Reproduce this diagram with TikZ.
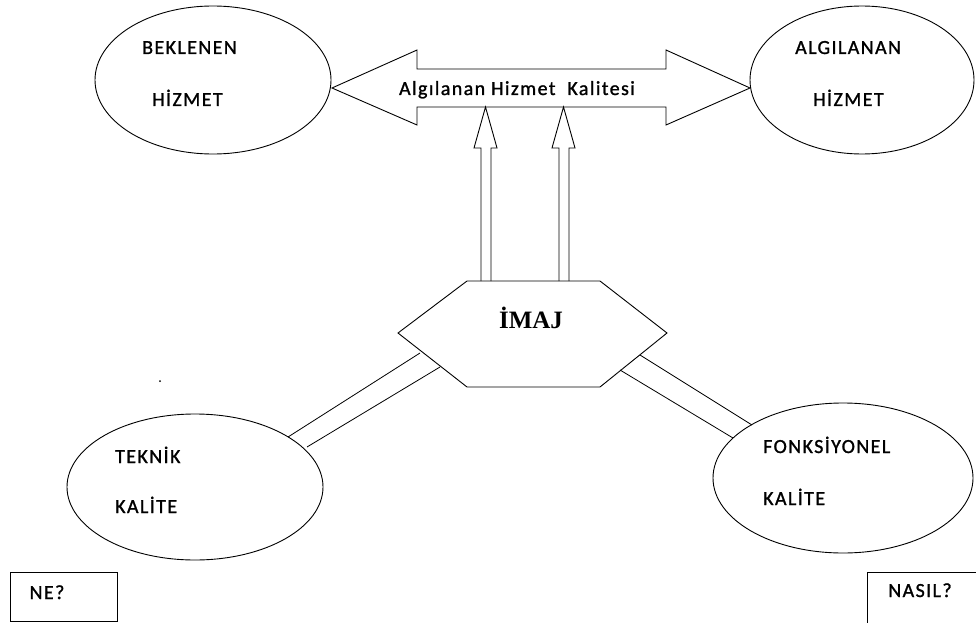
\documentclass[tikz,border=0pt]{standalone}
\usepackage{fontspec}
\setmainfont{Carlito}
\newfontfamily\labelfont[LetterSpace=7,FakeBold=1.2]{Carlito}
\newfontfamily\titlefont{Liberation Serif}
\usetikzlibrary{shapes.geometric}
\begin{document}
\begin{tikzpicture}[x=1pt,y=-1pt,
  outline/.style={draw=black,line width=0.9pt},
  oval/.style={outline,ellipse,inner sep=0pt},
  lbl/.style={anchor=base west,inner sep=0pt,font=\labelfont\fontsize{20}{22}\selectfont},
  clbl/.style={anchor=base,inner sep=0pt,font=\labelfont\fontsize{20}{22}\selectfont},
  link/.style={outline,line width=0.8pt}]
\useasboundingbox (0,0) rectangle (976,623);
\clip (0,0) rectangle (976,623);

% the four ovals
\node[oval,minimum width=236pt,minimum height=148pt] (bek) at (213,80) {};
\node[oval,minimum width=224pt,minimum height=148pt] (alg) at (862,80) {};
\node[oval,minimum width=256pt,minimum height=146pt] (tek) at (195,487) {};
\node[oval,minimum width=260pt,minimum height=150pt] (fon) at (843,478) {};

% oval labels
\node[lbl] (bek1) at (142,54) {BEKLENEN};
\node[lbl] (bek2) at (152,106) {HİZMET};
\node[lbl] (alg1) at (795,54) {ALGILANAN};
\node[lbl] (alg2) at (813,106) {HİZMET};
\node[lbl] (tek1) at (115,463) {TEKNİK};
\node[lbl] (tek2) at (115,513) {KALİTE};
\node[lbl] (fon1) at (763,453) {FONKSİYONEL};
\node[lbl] (fon2) at (763,505) {KALİTE};

% hexagon
\coordinate (h1) at (467,281);
\coordinate (h2) at (600,281);
\coordinate (h3) at (667,333);
\coordinate (h4) at (600,387);
\coordinate (h5) at (467,387);
\coordinate (h6) at (398,333);
\draw[outline] (h1) -- (h2) -- (h3) -- (h4) -- (h5) -- (h6) -- cycle;
\node[inner sep=0pt,font=\titlefont\bfseries\fontsize{25}{27}\selectfont] (imaj) at (531,318) {İMAJ};

% two-way arrow
\draw[outline] (332,88) -- (417,50) -- (417,69) -- (666,69) -- (666,50) -- (750,88)
  -- (666,125) -- (666,107) -- (417,107) -- (417,125) -- cycle;
\node[clbl] (aqk) at (517,95) {Algılanan Hizmet\ \ Kalitesi};

% hollow arrows rising from the hexagon
\draw[outline] (481,281) -- (481,148) -- (474,148) -- (485.5,107) -- (497,148) -- (491,148) -- (491,281);
\draw[outline] (559,281) -- (559,148) -- (552,148) -- (563.5,107) -- (575,148) -- (569,148) -- (569,281);

% double links from the hexagon to the lower ovals
\coordinate (la1) at (420,353);
\coordinate (lb1) at (288,437);
\coordinate (la2) at (440,367);
\coordinate (lb2) at (307,447);
\coordinate (ra1) at (640,355);
\coordinate (rb1) at (752,425);
\coordinate (ra2) at (620,370);
\coordinate (rb2) at (733,438);
\draw[link] (la1) -- (lb1);
\draw[link] (la2) -- (lb2);
\draw[link] (ra1) -- (rb1);
\draw[link] (ra2) -- (rb2);

% stray dot
\fill (160,381) circle (1pt);

% corner boxes
\draw[outline] (10,621) -- (10,572) -- (117,572) -- (117,621) -- cycle;
\node[clbl] (ne) at (47,599) {NE?};
\draw[outline] (867,640) -- (867,572) -- (990,572);
\node[clbl] (nasil) at (920,597) {NASIL?};
\end{tikzpicture}
\end{document}
